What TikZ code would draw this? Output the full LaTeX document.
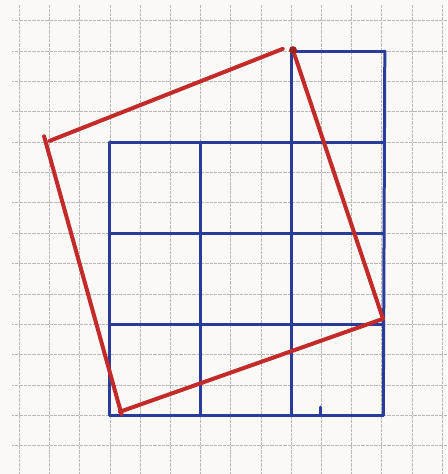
\documentclass[tikz,border=0pt]{standalone}
\usepackage{tikz}
\definecolor{paper}{RGB}{250,249,246}
\definecolor{gridgray}{RGB}{185,185,185}
\definecolor{bluepen}{RGB}{40,60,155}
\definecolor{redpen}{RGB}{195,42,42}

\begin{document}
\begin{tikzpicture}[x=30.2pt,y=-30.36pt]
      \tikzstyle{dots}=[gridgray,line width=0.7pt,dash pattern=on 0.5pt off 0.8pt]
      \tikzstyle{blueline}=[bluepen,line width=3pt,line cap=round]
      \tikzstyle{redline}=[redpen,line width=4pt,line cap=round]

      \fill[paper] (-0.64,-0.68) rectangle (14.16,14.93);
      \useasboundingbox (-0.64,-0.68) rectangle (14.16,14.93);

      % graph paper
      \foreach \i in {0,...,14} {
        \draw[dots] (\i,-0.52) -- (\i,14.93);
        \draw[dots] (-0.24,\i) -- (14.16,\i);
      }

      % blue grid
      \coordinate (a1) at (9,1);
      \coordinate (a2) at (12.1,1);
      \coordinate (b0) at (3,4);
      \coordinate (b3) at (12.1,4);
      \coordinate (c0) at (3,7);
      \coordinate (c3) at (12.05,7);
      \coordinate (d0) at (3,10);
      \coordinate (d3) at (12.05,10);
      \coordinate (e0) at (3,13);
      \coordinate (e1) at (6,13);
      \coordinate (e2) at (9,13);
      \coordinate (e3) at (12.05,13);
      \coordinate (b1) at (6,4);
      \coordinate (k0) at (9.98,12.73);
      \coordinate (k1) at (9.98,13);

      \draw[blueline] (a1) -- (a2);
      \draw[blueline] (a2) -- (e3);
      \draw[blueline] (a1) -- (e2);
      \draw[blueline] (b1) -- (e1);
      \draw[blueline] (b0) -- (e0);

      \draw[blueline] (b0) -- (b3);
      \draw[blueline] (c0) -- (c3);
      \draw[blueline] (d0) -- (d3);
      \draw[blueline] (e0) -- (e3);
      \draw[blueline] (k0) -- (k1);

      % red square
      \coordinate (t) at (9.06,0.97);
      \coordinate (r) at (12.04,9.82);
      \coordinate (b) at (3.33,12.88);
      \coordinate (l) at (0.82,3.81);
      \coordinate (l1) at (1.0,3.96);
      \coordinate (t1) at (8.72,0.93);
      \coordinate (b1r) at (3.38,12.95);

      \draw[redline] (l1) -- (t1);
      \draw[redline] (t) -- (r);
      \draw[redline] (r) -- (b);
      \draw[redline] (l) -- (b1r);
      \fill[redpen!80!black] (t) circle (0.13);
    \end{tikzpicture}
\end{document}
